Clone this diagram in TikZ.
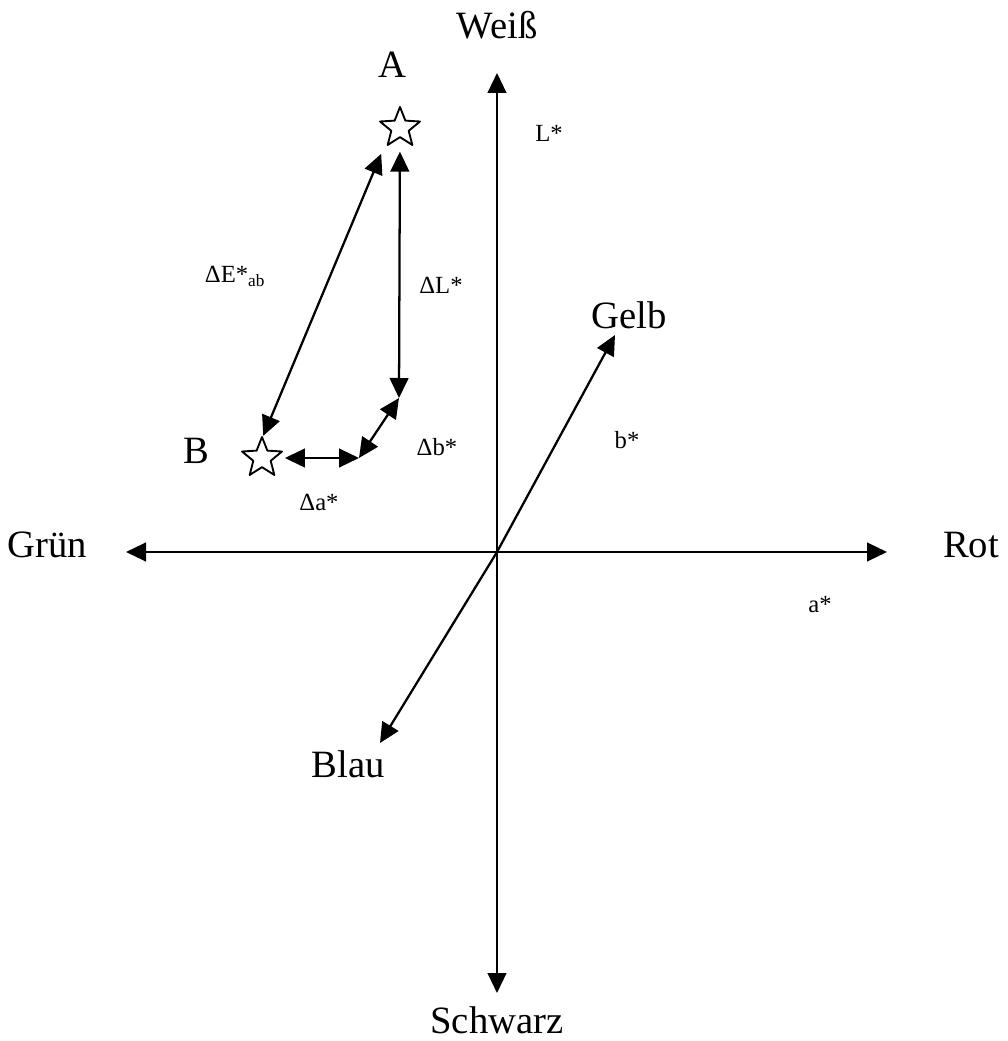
\documentclass[tikz,border=0pt]{standalone}
\usepackage{fontspec}
\setmainfont{Liberation Serif}
\usetikzlibrary{arrows.meta,shapes.geometric}
\tikzset{
    every picture/.style={line cap=round,line join=round},
    axisarrow/.style={-{Triangle[length=15pt,width=14pt]},line width=1.7pt},
    diffarrow/.style={{Triangle[length=15pt,width=14pt]}-{Triangle[length=15pt,width=14pt]},
      line width=1.7pt},
    axislabel/.style={anchor=base,inner sep=0pt,font=\fontsize{29}{34}\selectfont},
    varlabel/.style={anchor=base,inner sep=0pt,font=\fontsize{18.5}{22}\selectfont},
    colourstar/.style={star,star points=5,star point ratio=2.3,draw,fill=white,
      line width=1.4pt,minimum size=31.5pt,inner sep=0pt}
}
\begin{document}
\begin{tikzpicture}[x=0.75pt,y=-0.75pt]
  \path[use as bounding box] (0,0) rectangle (1007,1041);
  % axes of the colour space
  \coordinate (O) at (497,552);
  \coordinate (Lplus) at (497,73);
  \coordinate (Lminus) at (497,993);
  \coordinate (aplus) at (887,552);
  \coordinate (aminus) at (126,552);
  \coordinate (bplus) at (615,335);
  \coordinate (bminus) at (380,743);
  \draw[axisarrow] (O) -- (Lplus);
  \draw[axisarrow] (O) -- (Lminus);
  \draw[axisarrow] (O) -- (aplus);
  \draw[axisarrow] (O) -- (aminus);
  \draw[axisarrow] (O) -- (bplus);
  \draw[axisarrow] (O) -- (bminus);
  \node[axislabel] (weiss) at (497,39) {Weiß};
  \node[axislabel] (schwarz) at (497,1033) {Schwarz};
  \node[axislabel] (gruen) at (47,557) {Grün};
  \node[axislabel] (rot) at (971,557) {Rot};
  \node[axislabel] (gelb) at (629,328) {Gelb};
  \node[axislabel] (blau) at (348,777) {Blau};
  \node[varlabel] (Llab) at (549,142) {L*};
  \node[varlabel] (blab) at (627,448) {b*};
  \node[varlabel] (alab) at (820,612) {a*};
  % the two colours and their differences
  \node[colourstar] (A) at (400,128) {};
  \node[colourstar] (B) at (262,458) {};
  \node[axislabel] (Alab) at (392,78) {A};
  \node[axislabel] (Blab) at (196,463) {B};
  \coordinate (c1) at (359,458);
  \coordinate (c2) at (399,398);
  \draw[diffarrow,shorten <=21pt,shorten >=18pt] ([xshift=-6pt]A.center) -- ([xshift=-6pt]B.center);
  \draw[diffarrow,shorten >=10pt] (c2) -- (A);
  \draw[diffarrow] (c1) -- (c2);
  \draw[diffarrow,shorten <=7pt] (B) -- (c1);
  \node[varlabel] (dE) at (235,282) {ΔE*\textsubscript{ab}};
  \node[varlabel] (dL) at (441,293) {ΔL*};
  \node[varlabel] (db) at (437,455) {Δb*};
  \node[varlabel] (da) at (319,510) {Δa*};
\end{tikzpicture}
\end{document}
